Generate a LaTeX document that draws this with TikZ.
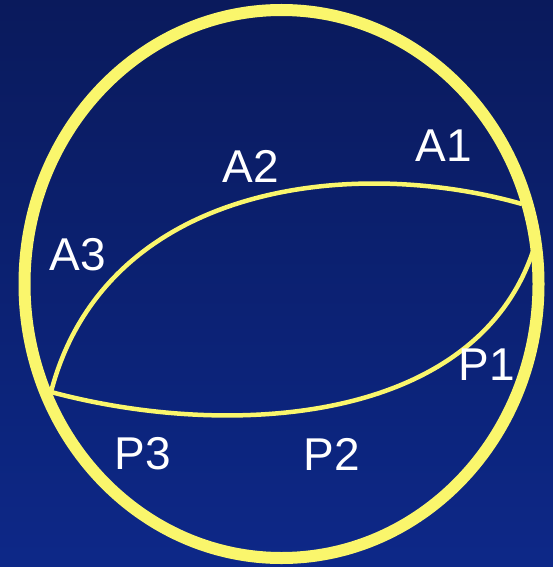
\documentclass[tikz,border=0pt]{standalone}
\usepackage{fontspec}
\setmainfont{Liberation Sans}
\definecolor{bgtop}{RGB}{10,26,92}
\definecolor{bgmid}{RGB}{6,20,74}
\definecolor{bgbot}{RGB}{13,40,136}
\definecolor{sunyellow}{RGB}{250,246,108}
\tikzset{
  rim/.style={draw=sunyellow, line width=12pt},
  arcline/.style={draw=sunyellow, line width=4.5pt},
  lbl/.style={text=white, font=\fontsize{46}{46}\selectfont, inner sep=0pt}
}
\begin{document}
\begin{tikzpicture}[x=1pt,y=-1pt]
\useasboundingbox (0,0) rectangle (553,567);
\shade[top color=bgtop, middle color=bgmid, bottom color=bgbot] (0,0) rectangle (553,567);
\coordinate (C) at (281.5,284);
\coordinate (L) at (51,392);
\coordinate (R1) at (522,204);
\coordinate (R2) at (535,245);
\draw[rim] (C) ellipse [x radius=257, y radius=274];
\draw[arcline] (L) .. controls (105,185) and (350,155) .. (R1);
\draw[arcline] (L) .. controls (230,440) and (480,425) .. (R2);
\node[lbl] (A1) at (444,146) {A1};
\node[lbl] (A2) at (251,166) {A2};
\node[lbl] (A3) at (78,255) {A3};
\node[lbl] (P1) at (487,365) {P1};
\node[lbl] (P2) at (332,454) {P2};
\node[lbl] (P3) at (143,454) {P3};
\end{tikzpicture}
\end{document}
